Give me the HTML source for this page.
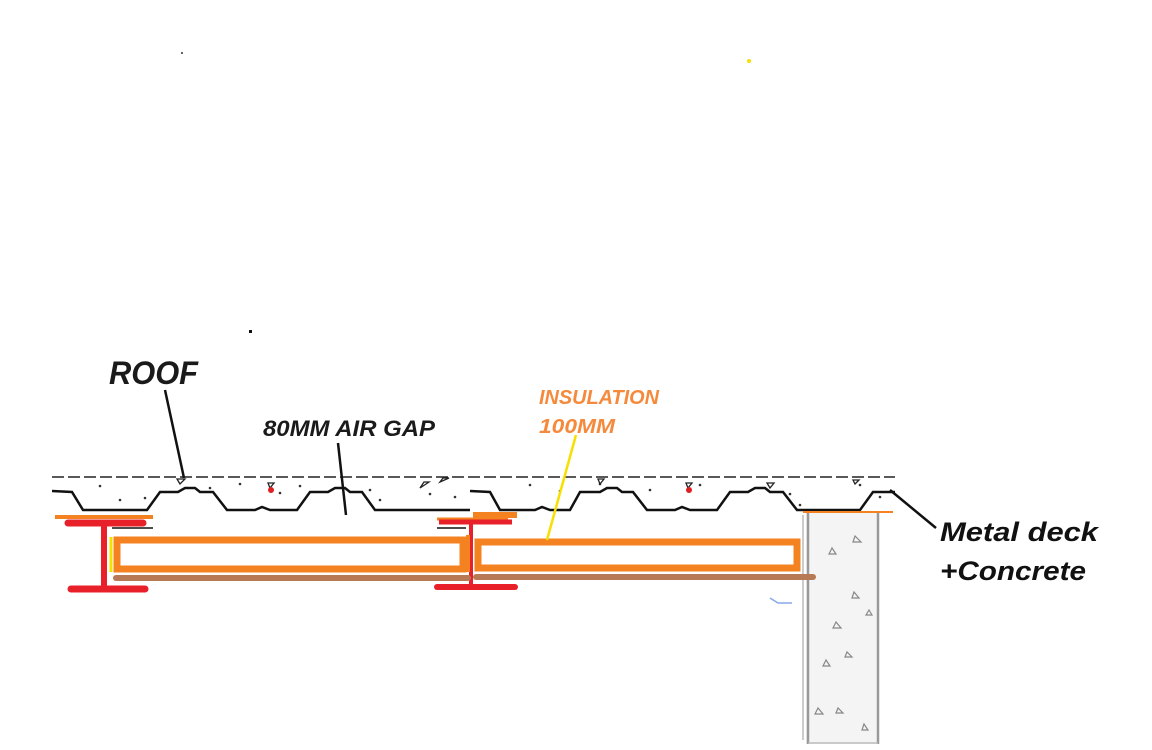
<!DOCTYPE html>
<html><head><style>body{margin:0;background:#fff}svg{display:block}</style></head>
<body>
<svg width="1152" height="750" viewBox="0 0 1152 750" xmlns="http://www.w3.org/2000/svg" font-family="Liberation Sans, sans-serif">
<rect width="1152" height="750" fill="#fff"/>
<circle cx="182" cy="53" r="1" fill="#333"/>
<circle cx="749" cy="61" r="2" fill="#f5e000"/>
<rect x="249" y="330" width="3" height="3" fill="#111"/>

<!-- column -->
<rect x="806" y="512" width="73" height="232" fill="#f4f4f4"/>
<line x1="808" y1="512" x2="808" y2="744" stroke="#999" stroke-width="2.5"/>
<line x1="878" y1="512" x2="878" y2="744" stroke="#999" stroke-width="2.5"/>
<line x1="803" y1="515" x2="803" y2="740" stroke="#ccc" stroke-width="2"/>
<line x1="808" y1="743" x2="878" y2="743" stroke="#bbb" stroke-width="1.5"/>
<g fill="none" stroke="#888" stroke-width="1.2">
<path d="M832 548l-3 6h7z"/><path d="M855 536l-2 6h8z"/><path d="M854 592l-2 6h7z"/><path d="M869 610l-3 5h6z"/><path d="M836 622l-3 6h8z"/><path d="M847 652l-2 5h7z"/><path d="M826 660l-3 6h7z"/><path d="M818 708l-3 6h8z"/><path d="M838 708l-2 5h7z"/><path d="M864 724l-2 6h6z"/>
</g>

<!-- concrete top dashed line -->
<line x1="52" y1="477" x2="895" y2="477" stroke="#222" stroke-width="1.5" stroke-dasharray="12 4"/>
<!-- deck profile -->
<path d="M52 491 L72 492 L83 510 L147 510 L160 492 L178 492 L185 488 L195 488 L200 492 L213 492 L227 510 L255 510 L262 507 L270 510 L297 510 L310 492 L328 492 L335 488 L345 488 L350 492 L362 492 L375 510 L470 510" fill="none" stroke="#111" stroke-width="2.5"/>
<path d="M470 491 L490 492 L500 510 L535 510 L542 507 L550 510 L570 510 L580 492 L600 492 L607 488 L617 488 L622 492 L633 492 L647 510 L675 510 L682 507 L690 510 L717 510 L730 492 L748 492 L755 488 L765 488 L770 492 L783 492 L797 510 L860 510 L873 492 L895 492" fill="none" stroke="#111" stroke-width="2.5"/>
<g fill="#333">
<circle cx="100" cy="486" r="1.3"/><circle cx="120" cy="500" r="1.3"/><circle cx="145" cy="498" r="1.3"/><circle cx="210" cy="488" r="1.3"/><circle cx="240" cy="484" r="1.3"/><circle cx="280" cy="493" r="1.3"/><circle cx="300" cy="486" r="1.3"/><circle cx="370" cy="490" r="1.3"/><circle cx="380" cy="500" r="1.3"/><circle cx="430" cy="494" r="1.3"/><circle cx="455" cy="497" r="1.3"/><circle cx="530" cy="485" r="1.3"/><circle cx="560" cy="491" r="1.3"/><circle cx="600" cy="484" r="1.3"/><circle cx="650" cy="490" r="1.3"/><circle cx="700" cy="485" r="1.3"/><circle cx="790" cy="494" r="1.3"/><circle cx="800" cy="505" r="1.3"/><circle cx="860" cy="485" r="1.3"/><circle cx="880" cy="497" r="1.3"/>
</g>
<g fill="none" stroke="#222" stroke-width="1.3">
<path d="M180 484l-3 -5h8z"/><path d="M270 488l-2 -5h6z"/><path d="M420 488l4 -6h5z"/><path d="M440 482l3 -4h6z"/><path d="M600 484l-2 -5h6z"/><path d="M688 488l-2 -5h6z"/><path d="M770 488l-3 -5h7z"/><path d="M855 484l-2 -4h6z"/>
</g>
<circle cx="271" cy="490" r="3" fill="#e02020"/>
<circle cx="689" cy="490" r="3" fill="#e02020"/>
<line x1="803" y1="512" x2="893" y2="512" stroke="#f58220" stroke-width="2"/>

<!-- left beam -->
<line x1="55" y1="517" x2="153" y2="517" stroke="#f58220" stroke-width="4"/>
<line x1="68" y1="523" x2="143" y2="523" stroke="#e8202a" stroke-width="7" stroke-linecap="round"/>
<line x1="104" y1="523" x2="104" y2="588" stroke="#e8202a" stroke-width="6"/>
<line x1="71" y1="589" x2="145" y2="589" stroke="#e8202a" stroke-width="7" stroke-linecap="round"/>
<line x1="112" y1="528" x2="153" y2="528" stroke="#111" stroke-width="1.5"/>
<!-- right beam -->
<line x1="473" y1="515" x2="517" y2="515" stroke="#f58220" stroke-width="6"/>
<line x1="437" y1="519" x2="508" y2="519" stroke="#f58220" stroke-width="3"/>
<line x1="439" y1="522" x2="512" y2="522" stroke="#e8202a" stroke-width="5"/>
<line x1="471" y1="522" x2="471" y2="586" stroke="#e8202a" stroke-width="4"/>
<line x1="437" y1="587" x2="515" y2="587" stroke="#e8202a" stroke-width="6" stroke-linecap="round"/>
<line x1="437" y1="528" x2="466" y2="528" stroke="#111" stroke-width="1.5"/>

<!-- insulation -->
<line x1="111" y1="537" x2="111" y2="572" stroke="#f5e000" stroke-width="3"/>
<rect x="117" y="540" width="346" height="29" fill="none" stroke="#f58220" stroke-width="7"/>
<rect x="478" y="542" width="319" height="26" fill="none" stroke="#f58220" stroke-width="7"/>
<line x1="468" y1="535" x2="468" y2="572" stroke="#f58220" stroke-width="4"/>
<line x1="116" y1="578" x2="468" y2="578" stroke="#b87a55" stroke-width="6" stroke-linecap="round"/>
<line x1="476" y1="577" x2="813" y2="577" stroke="#b87a55" stroke-width="6" stroke-linecap="round"/>
<path d="M770 598 L778 603 L792 603" fill="none" stroke="#88a8e8" stroke-width="1.5"/>

<!-- leaders -->
<line x1="165" y1="390" x2="184" y2="478" stroke="#111" stroke-width="2.5"/>
<line x1="338" y1="443" x2="346" y2="515" stroke="#111" stroke-width="2.5"/>
<line x1="576" y1="435" x2="547" y2="540" stroke="#f5e000" stroke-width="2.5"/>
<line x1="890" y1="490" x2="936" y2="528" stroke="#111" stroke-width="2.5"/>

<!-- labels -->
<g font-weight="bold" font-style="italic">
<text x="109" y="384" font-size="32" fill="#1a1a1a" textLength="89" lengthAdjust="spacingAndGlyphs">ROOF</text>
<text x="263" y="436" font-size="22" fill="#1a1a1a" textLength="172" lengthAdjust="spacingAndGlyphs">80MM AIR GAP</text>
<text x="539" y="404" font-size="20" fill="#f58a3c" textLength="120" lengthAdjust="spacingAndGlyphs">INSULATION</text>
<text x="539" y="433" font-size="20" fill="#f58a3c" textLength="76" lengthAdjust="spacingAndGlyphs">100MM</text>
<text x="940" y="541" font-size="27" fill="#111" textLength="158" lengthAdjust="spacingAndGlyphs">Metal deck</text>
<text x="940" y="580" font-size="27" fill="#111" textLength="146" lengthAdjust="spacingAndGlyphs">+Concrete</text>
</g>
</svg>
</body></html>
